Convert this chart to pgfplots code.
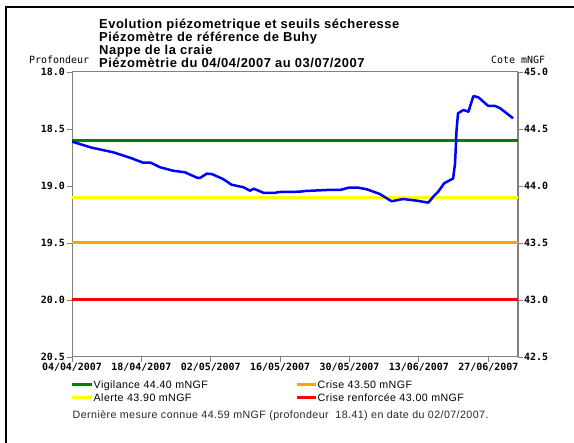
\documentclass[border=0pt]{standalone}
\usepackage{fontspec}
\setmainfont{Liberation Sans}
\newfontfamily\titlefont{Liberation Sans}[LetterSpace=4]
\newfontfamily\legfont{Liberation Sans}[LetterSpace=4]
\newfontfamily\monob{DejaVu Sans Mono}
\usepackage{pgfplots}
\usepackage{pgfplotstable}
\pgfplotsset{compat=1.18}
\definecolor{vig}{RGB}{0,128,0}
\definecolor{ale}{RGB}{255,255,0}
\definecolor{cri}{RGB}{255,165,0}
\definecolor{crr}{RGB}{255,0,0}
\definecolor{niv}{RGB}{0,0,255}
\definecolor{axgray}{RGB}{128,128,128}
% day 0 = 04/04/2007 ; cote in mNGF (profondeur = 63 - cote)
\pgfplotstableread{
day cote
0.0 44.389
4.0 44.336
8.3 44.296
11.7 44.248
14.4 44.204
15.9 44.204
17.8 44.164
20.4 44.134
22.8 44.120
25.2 44.073
25.8 44.070
27.2 44.108
28.2 44.105
30.5 44.061
32.2 44.011
34.6 43.989
35.9 43.959
36.7 43.976
38.7 43.939
41.0 43.939
41.6 43.947
46.0 43.950
47.0 43.956
51.4 43.965
54.1 43.965
55.8 43.985
57.8 43.985
59.5 43.971
62.1 43.930
64.5 43.866
66.8 43.886
69.6 43.871
71.9 43.854
72.9 43.906
73.9 43.950
75.1 44.024
76.6 44.059
76.9 44.064
77.3 44.199
77.6 44.491
77.9 44.638
79.0 44.667
80.0 44.652
81.0 44.789
82.0 44.778
84.0 44.702
85.4 44.702
86.4 44.682
89.0 44.594
}\niveau
\begin{document}
\begin{tikzpicture}
\useasboundingbox (0,0) rectangle (574bp,443bp);
% outer frame
\draw[black, line width=2.2bp] (6bp,0bp) -- (6bp,436bp) -- (574bp,436bp);
\begin{axis}[
  at={(72bp,86bp)}, anchor=south west,
  scale only axis, width=446bp, height=285bp,
  xmin=0, xmax=90, ymin=42.5, ymax=45,
  axis line style={axgray, line width=1bp},
  tick style={axgray, line width=0.8bp},
  tick align=outside, major tick length=5bp,
  xtick={0,14,28,42,56,70,84},
  xticklabels={04/04/2007,18/04/2007,02/05/2007,16/05/2007,30/05/2007,13/06/2007,27/06/2007},
  ytick={42.5,43,43.5,44,44.5,45},
  yticklabels={20.5,20.0,19.5,19.0,18.5,18.0},
  xtick pos=bottom, ytick pos=left,
  ticklabel style={font=\monob\bfseries\fontsize{10}{12}\selectfont, text=black},
  xticklabel style={inner sep=1bp},
  yticklabel style={inner sep=2bp},
]
\addplot[vig, line width=3bp] coordinates {(0,44.4) (90,44.4)};
\addplot[ale, line width=3bp] coordinates {(0,43.9) (90,43.9)};
\addplot[cri, line width=3bp] coordinates {(0,43.5) (90,43.5)};
\addplot[crr, line width=3bp] coordinates {(0,43.0) (90,43.0)};
\addplot[niv, line width=2.5bp, line join=round] table[x=day, y=cote] {\niveau};
\end{axis}
\begin{axis}[
  at={(72bp,86bp)}, anchor=south west,
  scale only axis, width=446bp, height=285bp,
  xmin=0, xmax=90, ymin=42.5, ymax=45,
  hide x axis,
  axis y line*=right,
  axis line style={axgray, line width=1bp},
  tick style={axgray, line width=0.8bp},
  tick align=outside, major tick length=5bp,
  ytick={42.5,43,43.5,44,44.5,45},
  yticklabels={42.5,43.0,43.5,44.0,44.5,45.0},
  ticklabel style={font=\monob\bfseries\fontsize{10}{12}\selectfont, text=black},
  yticklabel style={inner sep=1bp},
]
\end{axis}
% axis side labels
\node[anchor=base west, inner sep=0pt, font=\monob\fontsize{10}{12}\selectfont] at (29bp,379.5bp) {Profondeur};
\node[anchor=base west, inner sep=0pt, font=\monob\fontsize{10}{12}\selectfont] at (491bp,379.5bp) {Cote mNGF};
% titles
\begin{scope}[every node/.style={anchor=base west, inner sep=0pt, font=\titlefont\bfseries\fontsize{13}{15}\selectfont}]
\node at (99bp,414.7bp) {Evolution piézometrique et seuils sécheresse};
\node at (99bp,401.5bp) {Piézomètre de référence de Buhy};
\node at (99bp,388.2bp) {Nappe de la craie};
\node at (99bp,375bp) {Piézomètrie du 04/04/2007 au 03/07/2007};
\end{scope}
% legend
\draw[vig, line width=3bp] (72bp,58.7bp) -- (92bp,58.7bp);
\draw[ale, line width=3bp] (72bp,45.7bp) -- (92bp,45.7bp);
\draw[cri, line width=3bp] (297bp,58.7bp) -- (316bp,58.7bp);
\draw[crr, line width=3bp] (297bp,45.7bp) -- (316bp,45.7bp);
\begin{scope}[every node/.style={anchor=base west, inner sep=0pt, font=\legfont\fontsize{10.7}{12}\selectfont}]
\node at (93.5bp,54.7bp) {Vigilance 44.40 mNGF};
\node at (93.5bp,41.5bp) {Alerte 43.90 mNGF};
\node at (317.5bp,54.7bp) {Crise 43.50 mNGF};
\node at (317.5bp,41.5bp) {Crise renforcée 43.00 mNGF};
\node[text=black!85] at (72.5bp,24.5bp) {Dernière mesure connue 44.59 mNGF (profondeur\ \ 18.41) en date du 02/07/2007.};
\end{scope}
\end{tikzpicture}
\end{document}
